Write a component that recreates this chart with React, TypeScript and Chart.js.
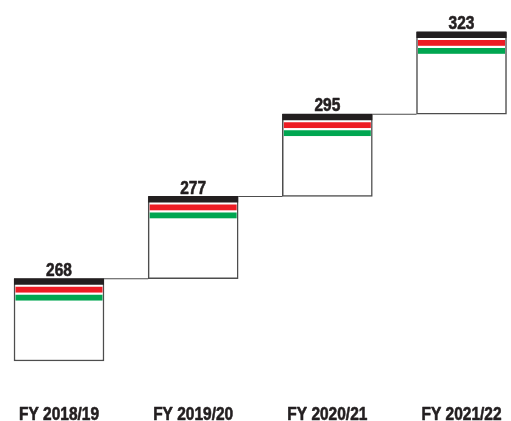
import React, { useEffect, useRef } from 'react';
import { Chart, registerables } from 'chart.js';

Chart.register(...registerables);

// Fiscal years and the amount allocated in each
const fiscalYears = ['FY 2018/19', 'FY 2019/20', 'FY 2020/21', 'FY 2021/22'];
const allocations = [268, 277, 295, 323];

// Staircase levels, top to bottom; the last empty level is the floor of the first step
const stepLevels = [...allocations].reverse().map(String).concat(['']);

// Each step spans from the previous year's level up to this year's level
const stepRanges = allocations.map((v, i) => [i === 0 ? '' : String(allocations[i - 1]), String(v)]);

const FONT = "'Liberation Sans', Arial, sans-serif";
const NARROW = 0.86; // horizontal squeeze giving a condensed bold face
const INK = '#231f20';
const EDGE = '#4d4d4d';
const FLAG = { black: '#231f20', red: '#ed1c24', green: '#00a651' };

function barBox(el: any) {
  const p = el.getProps(['x', 'y', 'base', 'width'], true);
  const top = Math.min(p.y, p.base);
  const bottom = Math.max(p.y, p.base);
  return { left: p.x - p.width / 2, right: p.x + p.width / 2, top, bottom, cx: p.x };
}

function narrowText(ctx: CanvasRenderingContext2D, text: string, x: number, y: number) {
  ctx.save();
  ctx.translate(x, y);
  ctx.scale(NARROW, 1);
  ctx.fillText(text, 0, 0);
  ctx.strokeText(text, 0, 0);
  ctx.restore();
}

const stairPlugin = {
  id: 'stairDecor',
  afterDatasetsDraw(chart: any) {
    const ctx = chart.ctx;
    const meta = chart.getDatasetMeta(0);
    const boxes = meta.data.map(barBox);
    ctx.save();

    // connector from each step's top-right corner to the next step
    ctx.strokeStyle = EDGE;
    ctx.lineWidth = 1.2;
    for (let i = 0; i < boxes.length - 1; i++) {
      const a = boxes[i];
      const b = boxes[i + 1];
      ctx.beginPath();
      ctx.moveTo(a.right, a.top);
      ctx.lineTo(b.left, a.top);
      ctx.stroke();
    }

    // tricolour bands at the head of each step
    boxes.forEach((b: any) => {
      const inL = b.left + 1.5;
      const inW = b.right - b.left - 3;
      ctx.fillStyle = FLAG.black;
      ctx.fillRect(b.left, b.top - 0.5, b.right - b.left, 6.5);
      ctx.fillStyle = FLAG.red;
      ctx.fillRect(inL, b.top + 8, inW, 5.8);
      ctx.fillStyle = FLAG.green;
      ctx.fillRect(inL, b.top + 16, inW, 5.8);
    });

    ctx.fillStyle = INK;
    ctx.strokeStyle = INK;
    ctx.lineWidth = 0.6;
    ctx.lineJoin = 'round';
    ctx.font = `bold 18px ${FONT}`;
    ctx.textAlign = 'center';
    ctx.textBaseline = 'alphabetic';

    // value above each step
    boxes.forEach((b: any, i: number) => {
      narrowText(ctx, String(allocations[i]), b.cx, b.top - 3);
    });

    // fiscal year under each column
    const xScale = chart.scales.x;
    const labels = chart.data.labels as string[];
    labels.forEach((lab: string, i: number) => {
      narrowText(ctx, lab, xScale.getPixelForTick(i), chart.chartArea.bottom + 59);
    });
    ctx.restore();
  },
};

export default function App() {
  const canvasRef = useRef<HTMLCanvasElement | null>(null);

  useEffect(() => {
    if (!canvasRef.current) return;
    const chart = new Chart(canvasRef.current, {
      type: 'bar',
      data: {
        labels: fiscalYears,
        datasets: [
          {
            data: stepRanges as any,
            backgroundColor: '#ffffff',
            borderColor: EDGE,
            borderWidth: 1.5,
            borderSkipped: false,
            barThickness: 90,
            clip: false as any,
          },
        ],
      },
      options: {
        animation: false,
        responsive: false,
        events: [],
        layout: { padding: { left: 59, right: 49.5, top: 32, bottom: 60 } },
        plugins: { legend: { display: false }, tooltip: { enabled: false } },
        scales: {
          x: {
            type: 'category',
            offset: false,
            display: false,
          },
          y: {
            type: 'category',
            labels: stepLevels,
            offset: false,
            display: false,
          },
        },
      },
      plugins: [stairPlugin],
    });
    return () => chart.destroy();
  }, []);

  return (
    <div style={{ position: 'absolute', left: 0, top: 0, width: 511, height: 421, background: '#ffffff' }}>
      <canvas ref={canvasRef} width={511} height={421} style={{ display: 'block' }} />
    </div>
  );
}
